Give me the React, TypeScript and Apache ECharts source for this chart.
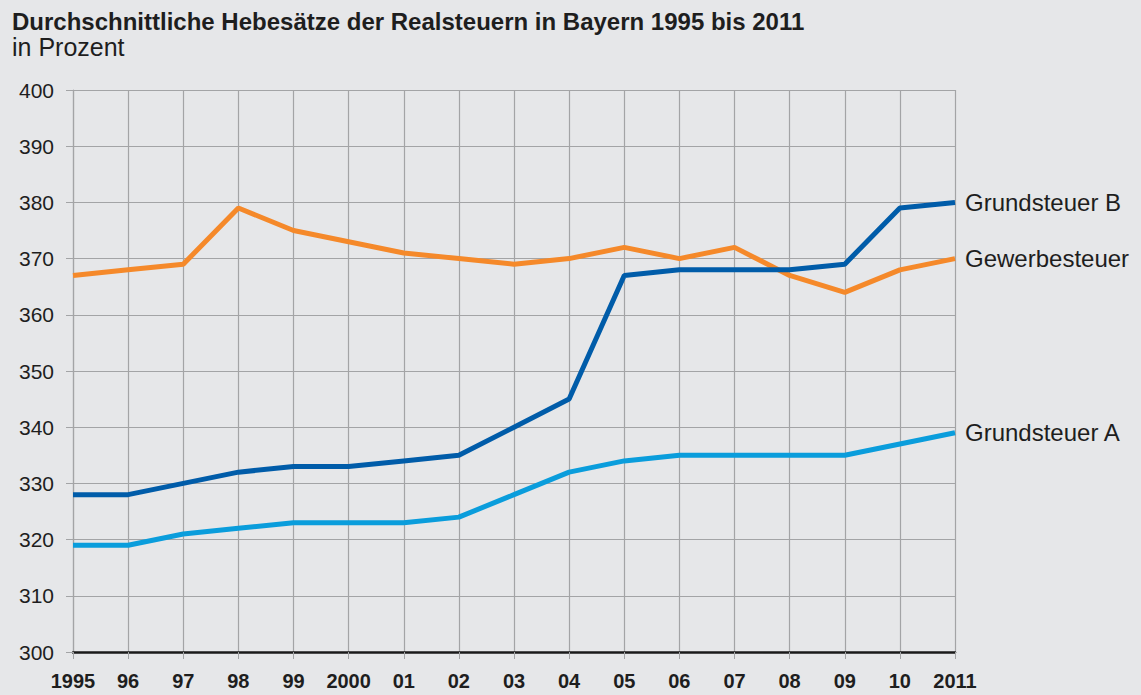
import React, { useEffect, useRef } from "react";
import * as echarts from "echarts";

const years = ["1995", "96", "97", "98", "99", "2000", "01", "02", "03", "04", "05", "06", "07", "08", "09", "10", "2011"];
const gewerbesteuer = [367, 368, 369, 379, 375, 373, 371, 370, 369, 370, 372, 370, 372, 367, 364, 368, 370];
const grundsteuerB = [328, 328, 330, 332, 333, 333, 334, 335, 340, 345, 367, 368, 368, 368, 369, 379, 380];
const grundsteuerA = [319, 319, 321, 322, 323, 323, 323, 324, 328, 332, 334, 335, 335, 335, 335, 337, 339];

const FONT = "Liberation Sans";
const GRID = "#a3a4a6";
const TEXT = "#1e1e1e";

export default function App() {
  const ref = useRef<HTMLDivElement>(null);
  useEffect(() => {
    if (!ref.current) return;
    const chart = echarts.init(ref.current, null, { renderer: "svg" });
    const mk = (name: string, data: number[], color: string) => ({
      name,
      type: "line",
      data,
      symbol: "none",
      lineStyle: { width: 5, color },
      itemStyle: { color },
      z: 3,
      endLabel: {
        show: true,
        formatter: name,
        color: TEXT,
        fontFamily: FONT,
        fontSize: 24,
        distance: 10,
      },
    });
    chart.setOption({
      animation: false,
      backgroundColor: "#e6e7e9",
      textStyle: { fontFamily: FONT },
      title: {
        text: "Durchschnittliche Hebesätze der Realsteuern in Bayern 1995 bis 2011",
        subtext: "in Prozent",
        left: 7,
        top: 4,
        itemGap: 1,
        textStyle: { fontFamily: FONT, fontSize: 24, fontWeight: "bold", color: TEXT },
        subtextStyle: { fontFamily: FONT, fontSize: 25, color: TEXT },
      },
      grid: { left: 73, right: 186, top: 90, bottom: 43, containLabel: false },
      xAxis: {
        type: "category",
        data: years,
        boundaryGap: false,
        axisLine: { show: true, lineStyle: { color: "#1a1a1a", width: 2.5 } },
        axisTick: { show: true, length: 7, lineStyle: { color: GRID } },
        axisLabel: {
          margin: 19,
          fontFamily: FONT,
          fontSize: 20,
          fontWeight: "bold",
          color: TEXT,
          interval: 0,
        },
        splitLine: { show: true, lineStyle: { color: GRID, width: 1.2 } },
      },
      yAxis: {
        type: "value",
        min: 300,
        max: 400,
        interval: 10,
        axisLine: { show: true, lineStyle: { color: GRID, width: 1.2 } },
        axisTick: { show: true, length: 7, lineStyle: { color: GRID } },
        axisLabel: { margin: 19, fontFamily: FONT, fontSize: 21, color: TEXT },
        splitLine: { show: true, lineStyle: { color: GRID, width: 1.2 } },
      },
      series: [
        mk("Grundsteuer A", grundsteuerA, "#0a9ddc"),
        mk("Gewerbesteuer", gewerbesteuer, "#f5892a"),
        mk("Grundsteuer B", grundsteuerB, "#005ca9"),
      ],
    });
    return () => chart.dispose();
  }, []);
  return (
    <div
      ref={ref}
      style={{ position: "fixed", left: 0, top: 0, width: 1141, height: 695 }}
    />
  );
}
